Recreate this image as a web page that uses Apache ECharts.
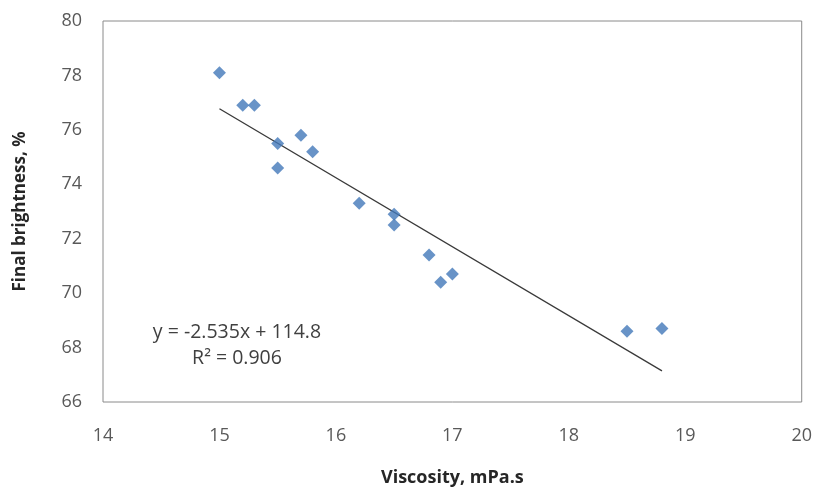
<!DOCTYPE html>
<html>
<head>
<meta charset="utf-8">
<script src="https://cdn.jsdelivr.net/npm/echarts@6/dist/echarts.min.js"></script>
<style>
  html, body { margin: 0; padding: 0; background: #ffffff; }
  #chart { width: 815px; height: 492px; }
</style>
</head>
<body>
<div id="chart"></div>
<script>
// Viscosity (mPa.s) against final brightness (%)
const viscosity  = [15.0, 15.2, 15.3, 15.5, 15.5, 15.7, 15.8, 16.2, 16.5, 16.5, 16.8, 16.9, 17.0, 18.5, 18.8];
const brightness = [78.1, 76.9, 76.9, 75.5, 74.6, 75.8, 75.2, 73.3, 72.9, 72.5, 71.4, 70.4, 70.7, 68.6, 68.7];

// Linear fit reported on the chart
const slope = -2.535;
const intercept = 114.8;
const rSquared = 0.906;

const xTicks = [14, 15, 16, 17, 18, 19, 20];
const yTicks = [66, 68, 70, 72, 74, 76, 78, 80];

const points = viscosity.map((v, i) => [v, brightness[i]]);
const xMin = Math.min(...viscosity);
const xMax = Math.max(...viscosity);
const trend = [[xMin, slope * xMin + intercept], [xMax, slope * xMax + intercept]];

const font = '"Open Sans", "Liberation Sans", sans-serif';

const chart = echarts.init(document.getElementById('chart'), null, { renderer: 'canvas' });
chart.setOption({
  animation: false,
  backgroundColor: '#ffffff',
  grid: {
    left: 103, top: 21, right: 13, bottom: 85,
    show: true, borderColor: '#8a8a8a', borderWidth: 1, backgroundColor: '#ffffff'
  },
  xAxis: {
    type: 'value',
    min: xTicks[0], max: xTicks[xTicks.length - 1], interval: 1,
    name: 'Viscosity, mPa.s',
    nameLocation: 'middle', nameGap: 67,
    nameTextStyle: { fontFamily: font, fontSize: 18, fontWeight: 'bold', color: '#262626', verticalAlign: 'top' },
    axisLine: { show: false }, axisTick: { show: false }, splitLine: { show: false },
    axisLabel: { margin: 25, fontFamily: font, fontSize: 18, color: '#595959' }
  },
  yAxis: {
    type: 'value',
    min: yTicks[0], max: yTicks[yTicks.length - 1], interval: 2,
    name: 'Final brightness, %',
    nameLocation: 'middle', nameGap: 74,
    nameTextStyle: { fontFamily: font, fontSize: 17, fontWeight: 'bold', color: '#262626' },
    axisLine: { show: false }, axisTick: { show: false }, splitLine: { show: false },
    axisLabel: { margin: 21, fontFamily: font, fontSize: 18, color: '#595959' }
  },
  series: [
    {
      type: 'line',
      data: trend,
      symbol: 'none',
      lineStyle: { color: '#3a3a3a', width: 1.3 },
      z: 3
    },
    {
      type: 'scatter',
      data: points,
      symbol: 'diamond',
      symbolSize: 13,
      itemStyle: { color: '#4278b9' },
      z: 4
    }
  ],
  graphic: [
    {
      type: 'text', x: 237, y: 332,
      style: {
        text: 'y = ' + slope.toFixed(3) + 'x + ' + intercept.toFixed(1),
        font: '19.5px ' + font, fill: '#404040', align: 'center', verticalAlign: 'middle'
      }
    },
    {
      type: 'text', x: 237, y: 358,
      style: {
        text: 'R² = ' + rSquared.toFixed(3),
        font: '19.5px ' + font, fill: '#404040', align: 'center', verticalAlign: 'middle'
      }
    }
  ]
});
</script>
</body>
</html>
